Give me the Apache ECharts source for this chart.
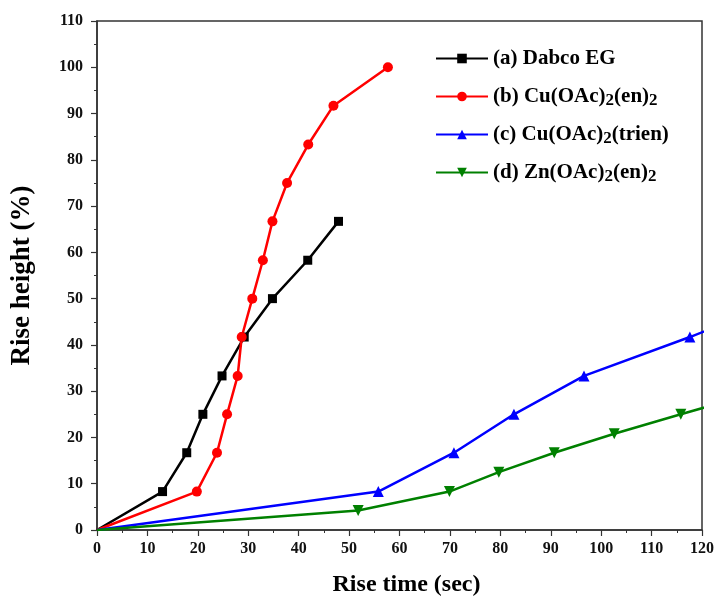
<!DOCTYPE html>
<html><head><meta charset="utf-8">
<script src="https://cdn.jsdelivr.net/npm/echarts@6/dist/echarts.min.js"></script>
<style>html,body{margin:0;padding:0;background:#fff}#c{width:717px;height:603px}</style>
</head><body><div id="c"></div>
<script>
const seriesNames = ['(a) Dabco EG', '(b) Cu(OAc)2(en)2', '(c) Cu(OAc)2(trien)', '(d) Zn(OAc)2(en)2'];
const dabcoX = [0, 13, 17.8, 21, 24.8, 29.2, 34.8, 41.8, 47.9];
const dabcoY = [0, 8.3, 16.7, 25, 33.3, 41.7, 50, 58.3, 66.7];
const cuEnX = [0, 19.8, 23.8, 25.8, 27.9, 28.7, 30.8, 32.9, 34.8, 37.7, 41.9, 46.9, 57.7];
const cuEnY = [0, 8.3, 16.7, 25, 33.3, 41.7, 50, 58.3, 66.7, 75, 83.3, 91.7, 100];
const cuTrienX = [0, 55.8, 70.8, 82.7, 96.6, 117.6, 130];
const cuTrienY = [0, 8.3, 16.7, 25, 33.3, 41.7, 47];
const znEnX = [0, 51.8, 69.9, 79.7, 90.7, 102.6, 115.8, 130];
const znEnY = [0, 4.2, 8.3, 12.5, 16.7, 20.8, 25, 29.5];
const xTicks = [0, 10, 20, 30, 40, 50, 60, 70, 80, 90, 100, 110, 120];
const yTicks = [0, 10, 20, 30, 40, 50, 60, 70, 80, 90, 100, 110];

const pair = (xs, ys) => xs.map((x, i) => [x, ys[i]]);
const FONT = 'Liberation Serif';
const chart = echarts.init(document.getElementById('c'), null, {renderer: 'canvas'});

function legendFmt(name) {
  const parts = name.split('2');
  let out = '';
  parts.forEach((p, i) => {
    if (p) out += '{n|' + p + '}';
    if (i < parts.length - 1) out += '{s|2}';
  });
  if (parts.length === 1) out += '{s| }';
  return out;
}

const colors = ['#000000', '#ff0000', '#0000ff', '#008000'];
const symbols = ['rect', 'circle', 'triangle', 'triangle'];
const sizes = [9, 10, 11, 11];
const datas = [pair(dabcoX, dabcoY), pair(cuEnX, cuEnY), pair(cuTrienX, cuTrienY), pair(znEnX, znEnY)];

chart.setOption({
  animation: false,
  backgroundColor: '#fff',
  grid: {left: 97, right: 13, top: 21, bottom: 73, show: true, borderColor: '#333', borderWidth: 1.5, backgroundColor: 'transparent'},
  legend: {
    show: true,
    left: 430, top: 43,
    orient: 'vertical',
    itemWidth: 52, itemHeight: 12, itemGap: 14.5,
    data: seriesNames,
    formatter: legendFmt,
    textStyle: {
      fontFamily: FONT, fontWeight: 'bold', fontSize: 21, color: '#000',
      rich: {
        n: {fontFamily: FONT, fontWeight: 'bold', fontSize: 21, color: '#000', lineHeight: 26, verticalAlign: 'middle'},
        s: {fontFamily: FONT, fontWeight: 'bold', fontSize: 17, color: '#000', lineHeight: 14, verticalAlign: 'bottom'}
      }
    }
  },
  xAxis: {
    type: 'value', min: 0, max: 120, interval: 10,
    name: 'Rise time (sec)', nameLocation: 'middle', nameGap: 43,
    nameTextStyle: {fontFamily: FONT, fontWeight: 'bold', fontSize: 24, color: '#000', padding: [0, 0, 0, 14]},
    axisLine: {show: true, onZero: false, lineStyle: {color: '#333', width: 1.5}},
    axisTick: {show: true, inside: false, length: 6, lineStyle: {color: '#333', width: 1.2}},
    minorTick: {show: true, splitNumber: 2, length: 3, lineStyle: {color: '#333', width: 1}},
    splitLine: {show: false},
    axisLabel: {fontFamily: FONT, fontWeight: 'bold', fontSize: 16, color: '#111', margin: 11,
      formatter: v => xTicks.includes(v) ? String(v) : ''}
  },
  yAxis: {
    type: 'value', min: 0, max: 110, interval: 10,
    name: 'Rise height (%)', nameLocation: 'middle', nameGap: 61,
    nameTextStyle: {fontFamily: FONT, fontWeight: 'bold', fontSize: 27, color: '#000'},
    axisLine: {show: true, onZero: false, lineStyle: {color: '#333', width: 1.5}},
    axisTick: {show: true, inside: false, length: 6, lineStyle: {color: '#333', width: 1.2}},
    minorTick: {show: true, splitNumber: 2, length: 3, lineStyle: {color: '#333', width: 1}},
    splitLine: {show: false},
    axisLabel: {fontFamily: FONT, fontWeight: 'bold', fontSize: 16, color: '#111', margin: 14,
      formatter: v => yTicks.includes(v) ? String(v) : ''}
  },
  series: seriesNames.map((n, i) => ({
    name: n, type: 'line', data: datas[i],
    symbol: symbols[i], symbolRotate: i === 3 ? 180 : 0,
    symbolSize: (v, p) => (p.dataIndex === 0 ? 0 : sizes[i]),
    showAllSymbol: true,
    itemStyle: {color: colors[i]},
    lineStyle: {color: colors[i], width: 2.5},
    clip: true
  }))
});
</script></body></html>
